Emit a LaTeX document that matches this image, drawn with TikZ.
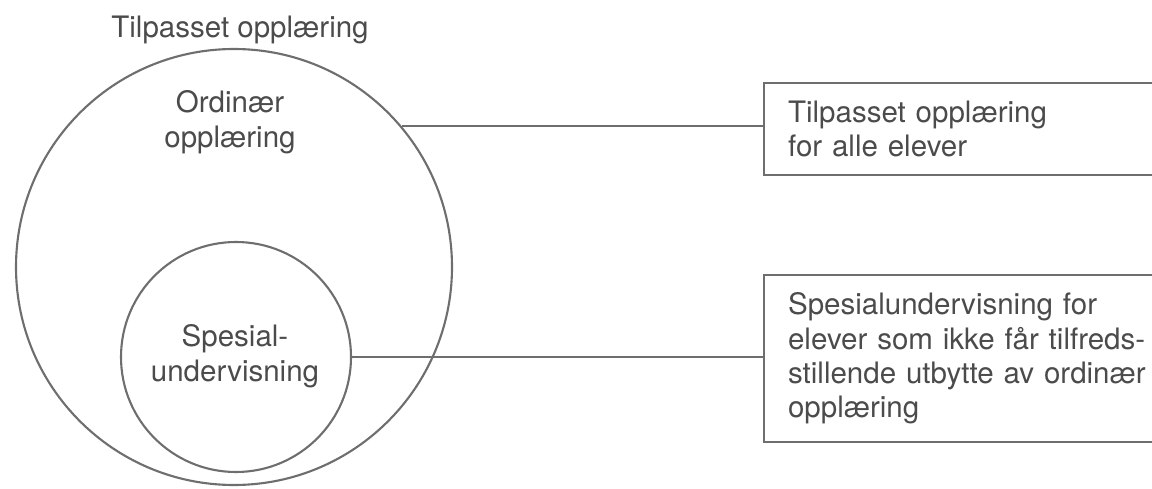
\documentclass[tikz,border=0pt]{standalone}
\usepackage{fontspec}
\setmainfont{TeX Gyre Heros}
\definecolor{inkgray}{RGB}{75,75,75}
\definecolor{linegray}{RGB}{110,110,110}
\begin{document}
\begin{tikzpicture}[line width=1.5pt, color=linegray, every node/.style={text=inkgray, font=\fontsize{21}{24.5}\selectfont}]
\useasboundingbox (0,0) rectangle (28.8,12.2);
\node[circle, draw, inner sep=0pt, minimum size=10.9cm] (ring0) at (5.85,5.525){};
\node[circle, draw, inner sep=0pt, minimum size=5.75cm] (ring1) at (5.9,3.275){};
\node[] (lab0) at (6.0,11.45){Tilpasset opplæring};
\node[align=center] (lab1) at (5.75,9.15){Ordinær\\opplæring};
\node[align=center] (lab2) at (5.875,3.3){Spesial-\\undervisning};
\node[draw, anchor=west, text width=9cm, inner xsep=0.6cm, minimum height=2.3cm, align=left] (box0) at (19.075,8.975){Tilpasset opplæring\\for alle elever};
\node[draw, anchor=west, text width=9cm, inner xsep=0.6cm, minimum height=4.175cm, align=left] (box1) at (19.075,3.2375){Spesialundervisning for\\elever som ikke får tilfreds-\\stillende utbytte av ordinær\\opplæring};
\draw[](ring0.40.5) -- (ring0.40.5 -| box0.west);
\draw[](ring1.east) -- (ring1.east -| box1.west);
\end{tikzpicture}
\end{document}
